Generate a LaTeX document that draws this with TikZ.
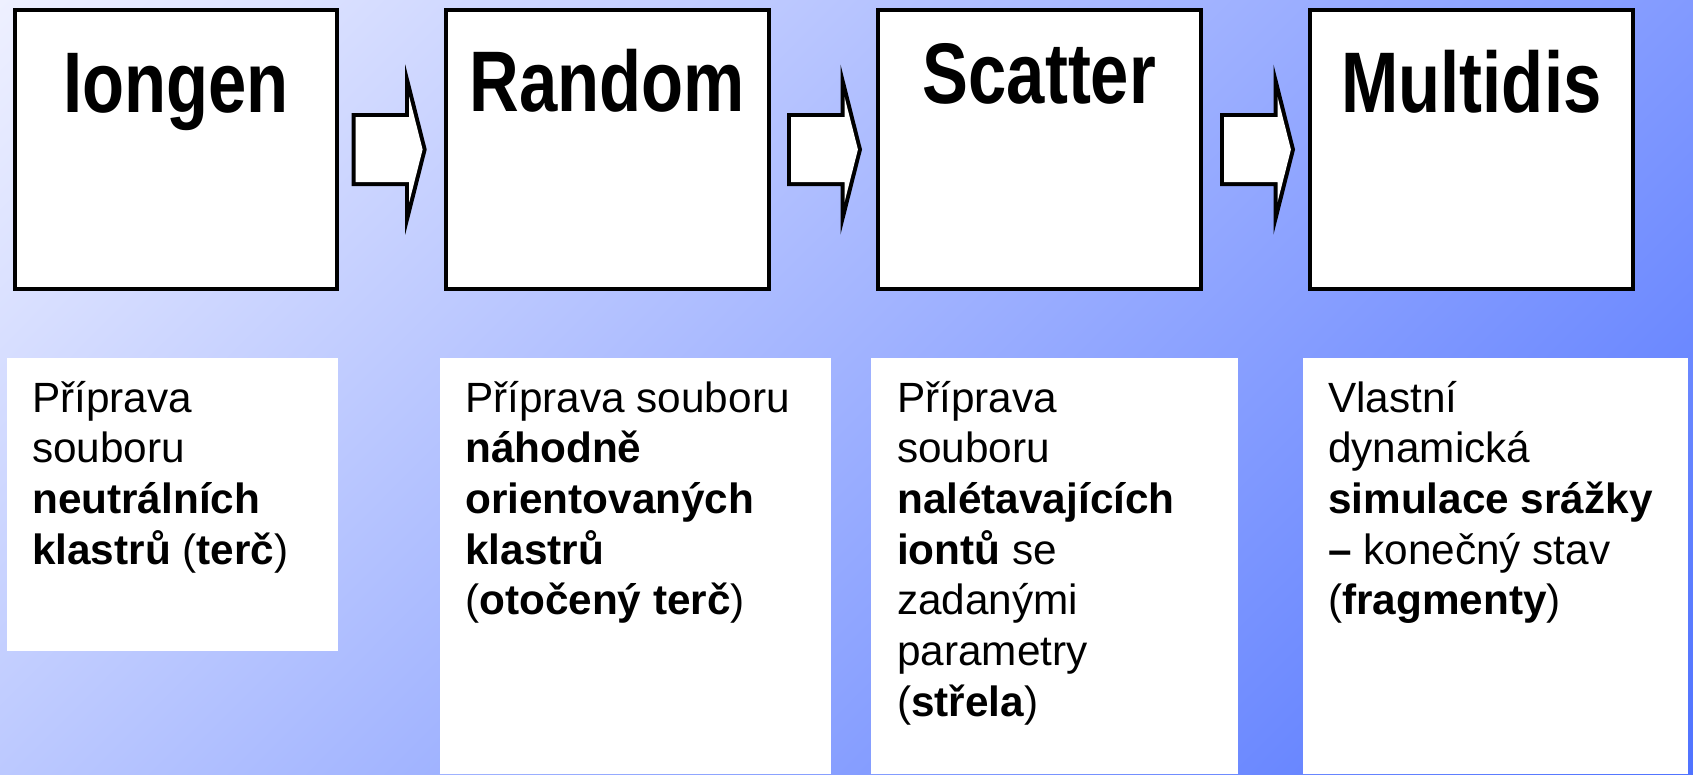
\documentclass[tikz,border=0pt]{standalone}
\usepackage{fontspec}
\setmainfont{Liberation Sans}
\usepackage{graphicx}
\usetikzlibrary{calc,shadings}
\definecolor{bgTL}{RGB}{238,240,255}
\definecolor{bgTR}{RGB}{130,154,255}
\definecolor{bgBL}{RGB}{188,201,255}
\definecolor{bgBR}{RGB}{80,115,255}
\begin{document}
\begin{tikzpicture}[x=1pt,y=-1pt,
  progbox/.style={draw=black, line width=4pt, fill=white, minimum width=322.5pt, minimum height=279pt, inner sep=0pt},
  progtitle/.style={anchor=base, inner sep=0pt, font=\fontsize{86}{90}\selectfont\bfseries},
  notebox/.style={fill=white, anchor=north west, inner sep=0pt, outer sep=0pt},
  notetext/.style={anchor=base west, inner sep=0pt, font=\fontsize{42.3}{50.7}\selectfont},
  arrowout/.style={fill=black},
  arrowin/.style={fill=white}]
\useasboundingbox (0,0) rectangle (1693,774);
\shade[upper left=bgTL, upper right=bgTR, lower left=bgBL, lower right=bgBR] (0,0) rectangle (1693,774);

% program boxes
\node[progbox] (b1) at (175.85,149.5) {};
\node[progbox] (b2) at (607.25,149.5) {};
\node[progbox] (b3) at (1039.35,149.5) {};
\node[progbox] (b4) at (1471.4,149.5) {};

\node[progtitle] (t1) at (175.85,112) {\scalebox{0.8}[1]{Iongen}};
\node[progtitle] (t2) at (607.25,111) {\scalebox{0.8}[1]{Random}};
\node[progtitle] (t3) at (1039.35,103) {\scalebox{0.8}[1]{Scatter}};
\node[progtitle] (t4) at (1471.4,112) {\scalebox{0.8}[1]{Multidis}};

% block arrows
\foreach \src/\dx in {b1/12.6, b2/16.5, b3/17.4} {
  \begin{scope}[shift={($(\src.east)+(\dx,0)$)}]
    \fill[arrowout] (0,-36.5) -- (53.5,-36.5) -- (53.5,-85) -- (75,0) -- (53.5,85) -- (53.5,36.5) -- (0,36.5) -- cycle;
    \fill[arrowin] (4,-32.5) -- (57.5,-32.5) -- (57.5,-52.7) -- (70.9,0) -- (57.5,52.7) -- (57.5,32.5) -- (4,32.5) -- cycle;
  \end{scope}
}

% note boxes
\node[notebox, minimum width=331pt, minimum height=293pt] (n1) at (7,358) {};
\node[notebox, minimum width=391pt, minimum height=416pt] (n2) at (440,358) {};
\node[notebox, minimum width=367pt, minimum height=416pt] (n3) at (871,358) {};
\node[notebox, minimum width=385pt, minimum height=416pt] (n4) at (1303,358) {};

\node[notetext] (x1) at (32,412) {\begin{tabular}[t]{@{}l@{}}Příprava\\souboru\\\textbf{neutrálních}\\\textbf{klastrů} (\textbf{terč})\end{tabular}};
\node[notetext] (x2) at (465,412) {\begin{tabular}[t]{@{}l@{}}Příprava souboru\\\textbf{náhodně}\\\textbf{orientovaných}\\\textbf{klastrů}\\(\textbf{otočený terč})\end{tabular}};
\node[notetext] (x3) at (897,412) {\begin{tabular}[t]{@{}l@{}}Příprava\\souboru\\\textbf{nalétavajících}\\\textbf{iontů} se\\zadanými\\parametry\\(\textbf{střela})\end{tabular}};
\node[notetext] (x4) at (1328,412) {\begin{tabular}[t]{@{}l@{}}Vlastní\\dynamická\\\textbf{simulace srážky}\\\textbf{–} konečný stav\\(\textbf{fragmenty})\end{tabular}};
\end{tikzpicture}
\end{document}
